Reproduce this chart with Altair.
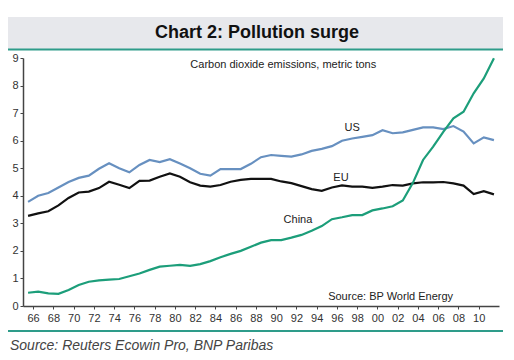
import altair as alt
import pandas as pd

years = list(range(1965, 2012))
us = [3.78, 4.0, 4.1, 4.3, 4.5, 4.65, 4.73, 4.98, 5.18, 5.0, 4.85, 5.12, 5.3, 5.22, 5.33, 5.17,
      5.0, 4.8, 4.73, 4.97, 4.97, 4.97, 5.16, 5.4, 5.48, 5.45, 5.42, 5.5, 5.63, 5.7, 5.8, 6.0,
      6.08, 6.14, 6.2, 6.38, 6.27, 6.3, 6.39, 6.48, 6.48, 6.42, 6.53, 6.33, 5.9, 6.12, 6.02]
eu = [3.27, 3.36, 3.44, 3.65, 3.92, 4.12, 4.15, 4.28, 4.51, 4.4, 4.28, 4.54, 4.55, 4.69, 4.81, 4.69,
      4.49, 4.37, 4.33, 4.39, 4.51, 4.58, 4.61, 4.61, 4.61, 4.52, 4.46, 4.35, 4.24, 4.18, 4.3, 4.38,
      4.33, 4.33, 4.29, 4.33, 4.39, 4.37, 4.45, 4.49, 4.49, 4.5, 4.45, 4.37, 4.06, 4.17, 4.05]
china = [0.48, 0.52, 0.46, 0.44, 0.58, 0.76, 0.88, 0.93, 0.96, 0.98, 1.08, 1.18, 1.31, 1.43, 1.46, 1.49,
         1.46, 1.52, 1.63, 1.77, 1.89, 2.0, 2.15, 2.3, 2.39, 2.39, 2.48, 2.58, 2.73, 2.9, 3.15, 3.22,
         3.3, 3.3, 3.47, 3.54, 3.62, 3.83, 4.47, 5.3, 5.78, 6.32, 6.81, 7.05, 7.72, 8.26, 8.99]

series_names = ["US", "EU", "China"]
series_colors = ["#6790c0", "#111111", "#1c9e7a"]
x_ticks = list(range(1966, 2011, 2))
y_ticks = list(range(0, 10))

label_text = ["US", "EU", "China", "Carbon dioxide emissions, metric tons", "Source: BP World Energy"]
label_x = [1997.5, 1996.4, 1992.15, 1990.7, 2001.3]
label_y = [6.46, 4.64, 3.12, 8.74, 0.33]

title_text = "Chart 2: Pollution surge"
source_text = "Source: Reuters Ecowin Pro, BNP Paribas"

rows = []
for name, vals in zip(series_names, [us, eu, china]):
    for yr, v in zip(years, vals):
        rows.append({"year": yr, "value": v, "series": name})
df = pd.DataFrame(rows)
labels_df = pd.DataFrame({"text": label_text, "xpos": label_x, "value": label_y})
one = pd.DataFrame({"a": [0]})

FONT = "Liberation Sans"

xscale = alt.Scale(domain=[1965, 2012], nice=False, zero=False)
yscale = alt.Scale(domain=[0, 9], nice=False)

x_axis = alt.Axis(values=x_ticks, labelExpr="slice(format(datum.value, '.0f'), 2)",
                  title=None, grid=False, tickSize=3, labelPadding=3,
                  labelOverlap=False, labelFlush=False,
                  domainColor="#444", domainWidth=1.5, tickColor="#444",
                  labelColor="#333", labelFontSize=11, labelFont=FONT)
y_axis = alt.Axis(values=y_ticks, title=None, grid=False, tickSize=3, labelPadding=2,
                  labelOverlap=False, labelFlush=False,
                  domainColor="#444", domainWidth=1.5, tickColor="#444",
                  labelColor="#333", labelFontSize=11, labelFont=FONT)

X = alt.X("xpos:Q", scale=xscale, axis=x_axis)
Y = alt.Y("value:Q", scale=yscale, axis=y_axis)

lines = alt.Chart(df).transform_calculate(
    xpos="datum.year + 0.5"
).mark_line(strokeWidth=2.2).encode(
    x=X, y=Y,
    color=alt.Color("series:N", scale=alt.Scale(domain=series_names, range=series_colors), legend=None),
)

labels = alt.Chart(labels_df).mark_text(font=FONT, fontSize=11, color="#222").encode(
    x=X, y=Y, text="text:N",
)

header_box = alt.Chart(one).mark_rect(color="#e7e8ec").encode(
    x=alt.value(-15), x2=alt.value(480), y=alt.value(-41), y2=alt.value(-9)
)
header_rule = alt.Chart(one).mark_rule(color="#2e9c8a", strokeWidth=2).encode(
    x=alt.value(-15), x2=alt.value(480), y=alt.value(-8.5)
)
header_text = alt.Chart(one).mark_text(
    text=title_text, font=FONT, fontSize=18, fontWeight="bold", color="#111", baseline="middle"
).encode(x=alt.value(234), y=alt.value(-25))

bottom_rule = alt.Chart(one).mark_rule(color="#2e9c8a", strokeWidth=2).encode(
    x=alt.value(-15), x2=alt.value(480), y=alt.value(273)
)
bottom_text = alt.Chart(one).mark_text(
    text=source_text, font=FONT, fontSize=14, fontStyle="italic", color="#444",
    align="left", baseline="middle"
).encode(x=alt.value(-13), y=alt.value(288))

chart = alt.layer(
    lines, labels, header_box, header_rule, header_text, bottom_rule, bottom_text
).properties(
    width=476, height=248,
    padding={"left": 15, "top": 50, "right": 7, "bottom": 46},
    autosize=alt.AutoSizeParams(type="none"),
    background="white",
).configure_view(stroke=None)

chart.save("out.html", embed_options={"renderer": "svg", "actions": False})
